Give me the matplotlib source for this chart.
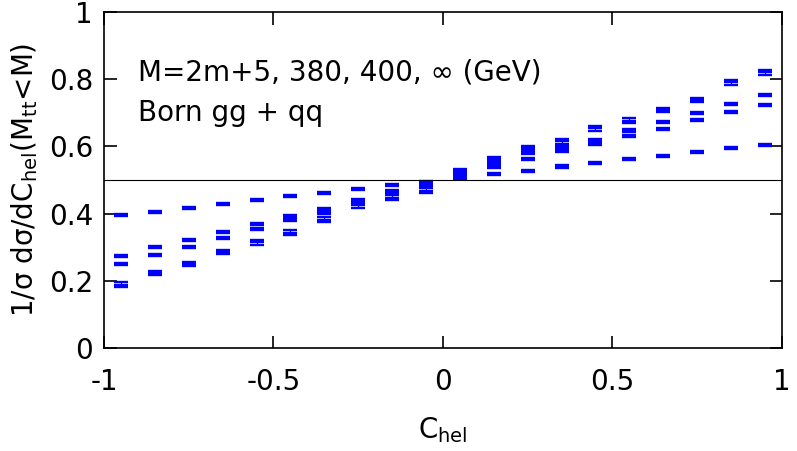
import matplotlib
matplotlib.use("Agg")
import matplotlib.pyplot as plt
import numpy as np

# bin centres in C_hel
c_hel = [-0.95, -0.85, -0.75, -0.65, -0.55, -0.45, -0.35, -0.25, -0.15, -0.05,
         0.05, 0.15, 0.25, 0.35, 0.45, 0.55, 0.65, 0.75, 0.85, 0.95]

# 1/sigma dsigma/dC_hel for the four mass cuts
m_thr = [0.395, 0.406, 0.418, 0.429, 0.440, 0.452, 0.461, 0.473, 0.485, 0.495,
         0.505, 0.518, 0.528, 0.540, 0.550, 0.561, 0.571, 0.584, 0.594, 0.605]
m_380 = [0.275, 0.300, 0.322, 0.345, 0.370, 0.394, 0.413, 0.440, 0.468, 0.490,
         0.512, 0.538, 0.562, 0.587, 0.606, 0.631, 0.651, 0.678, 0.701, 0.724]
m_400 = [0.249, 0.276, 0.300, 0.326, 0.354, 0.381, 0.403, 0.433, 0.460, 0.482,
         0.520, 0.550, 0.579, 0.597, 0.620, 0.647, 0.672, 0.700, 0.726, 0.752]
m_inf = [0.189, 0.223, 0.250, 0.286, 0.315, 0.343, 0.382, 0.425, 0.447, 0.468,
         0.527, 0.562, 0.595, 0.615, 0.653, 0.676, 0.708, 0.738, 0.790, 0.820]

err_thr = 0.003
err_380 = 0.003
err_400 = 0.003
err_inf = 0.007

fig = plt.figure(figsize=(7.97, 4.51), dpi=100)
ax = fig.add_axes([0.1305, 0.228, 0.8505, 0.746])

for vals, err in [(m_thr, err_thr), (m_380, err_380), (m_400, err_400), (m_inf, err_inf)]:
    ax.errorbar(c_hel, vals, yerr=err, fmt='_', color='#0000ff',
                markersize=9.4, markeredgewidth=1.7,
                elinewidth=0.9, capsize=4.7, capthick=0.9)

ax.axhline(0.5, color='black', linewidth=0.8)

ax.set_xlim(-1, 1)
ax.set_ylim(0, 1)
ax.set_xticks([-1, -0.5, 0, 0.5, 1])
ax.set_xticklabels(['-1', '-0.5', '0', '0.5', '1'])
ax.set_yticks([0, 0.2, 0.4, 0.6, 0.8, 1])
ax.set_yticklabels(['0', '0.2', '0.4', '0.6', '0.8', '1'])
ax.tick_params(direction='in', length=9, width=1.2, labelsize=20,
               top=True, right=True)
ax.tick_params(axis='x', pad=14)
ax.tick_params(axis='y', pad=8)
for s in ax.spines.values():
    s.set_linewidth(1.2)

ax.set_xlabel(r'C$_{\mathregular{hel}}$', fontsize=20, labelpad=14)
ax.set_ylabel(r'1/σ dσ/dC$_{\mathregular{hel}}$(M$_{\mathregular{tt}}$<M)', fontsize=20, labelpad=6)

ax.text(0.05, 0.818, 'M=2m+5, 380, 400, ∞ (GeV)', transform=ax.transAxes, fontsize=20, va='center')
ax.text(0.05, 0.699, 'Born gg + qq', transform=ax.transAxes, fontsize=20, va='center')

fig.savefig('out.png', dpi=100)
